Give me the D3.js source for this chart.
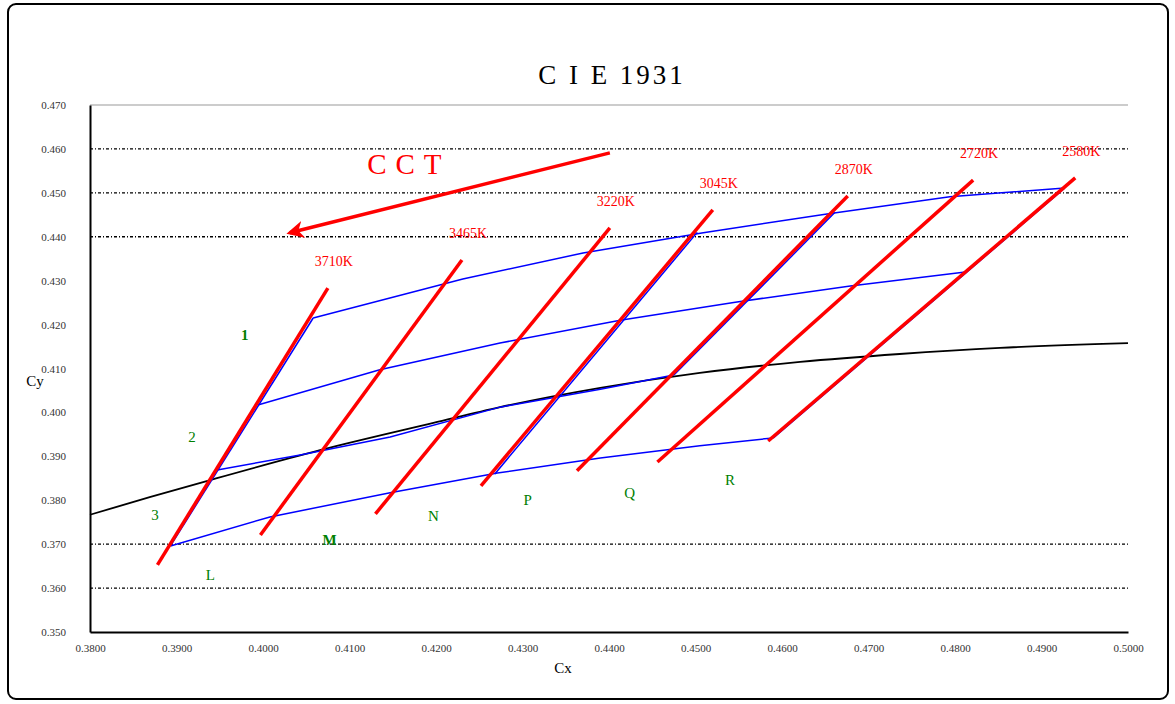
<!DOCTYPE html>
<html>
<head>
<meta charset="utf-8">
<script src="https://cdn.jsdelivr.net/npm/d3@7"></script>
<style>
  body { margin: 0; background: #fff; }
  text { font-family: "Liberation Serif", "DejaVu Serif", serif; }
</style>
</head>
<body>
<div id="chart"></div>
<script>
// axis ticks
var xTicks = d3.range(0, 13).map(function(i) { return 0.38 + i * 0.01; });
var yTicks = d3.range(0, 13).map(function(i) { return 0.35 + i * 0.01; });
var dottedGrid = [0.46, 0.45, 0.44, 0.37, 0.36];

// black locus curve
var locusX = [0.3800, 0.3869, 0.3939, 0.4066, 0.4197, 0.4274, 0.4390, 0.4505, 0.4621, 0.4736, 0.4852, 0.5000];
var locusY = [0.3767, 0.3807, 0.3846, 0.3914, 0.3976, 0.4012, 0.4056, 0.4090, 0.4115, 0.4133, 0.4147, 0.4158];

// blue bin boundaries
var blueA = [[0.4058,0.4215],[0.4231,0.4304],[0.4370,0.4363],[0.4509,0.4409],[0.4652,0.4452],[0.4794,0.4491],[0.4927,0.4511]];
var blueB = [[0.3994,0.4017],[0.4135,0.4097],[0.4274,0.4158],[0.4413,0.4210],[0.4546,0.4251],[0.4679,0.4288],[0.4812,0.4320]];
var blueC = [[0.3947,0.3869],[0.4043,0.3903],[0.4147,0.3944],[0.4274,0.4012],[0.4390,0.4053],[0.4475,0.4085]];
var blueD = [[0.3893,0.3696],[0.4008,0.3762],[0.4147,0.3817],[0.4271,0.3862],[0.4390,0.3896],[0.4505,0.3924],[0.4590,0.3942]];
var blueSides = [
  [[0.3893,0.3696],[0.4058,0.4215]],
  [[0.4268,0.3860],[0.4502,0.4410]],
  [[0.4475,0.4085],[0.4661,0.4455]],
  [[0.4590,0.3942],[0.4927,0.4511]]
];

// CCT isotherm lines
var cctLabels = ["3710K", "3465K", "3220K", "3045K", "2870K", "2720K", "2580K"];
var cctStart = [[0.3878,0.3653],[0.3997,0.3721],[0.4130,0.3769],[0.4252,0.3833],[0.4363,0.3867],[0.4456,0.3887],[0.4584,0.3935]];
var cctEnd   = [[0.4075,0.4283],[0.4230,0.4347],[0.4401,0.4420],[0.4520,0.4461],[0.4676,0.4493],[0.4821,0.4529],[0.4939,0.4534]];

// bin names
var binNames = ["1", "2", "3", "L", "M", "N", "P", "Q", "R"];
var binPos = [[0.3979,0.4176],[0.3918,0.3944],[0.3875,0.3767],[0.3939,0.3630],[0.4077,0.3710],[0.4197,0.3764],[0.4306,0.3801],[0.4424,0.3817],[0.4540,0.3846]];
var binBold = ["1", "M"];

// CCT arrow
var arrowFrom = [0.4401, 0.4591];
var arrowTo = [0.4031, 0.4409];
var arrowText = [0.4164, 0.4568];

var W = 1175, H = 704;
var margin = {top: 105, right: 47, bottom: 72, left: 90},
    width = W - margin.left - margin.right,
    height = H - margin.top - margin.bottom;

var svg = d3.select('#chart').append('svg')
    .attr('width', W)
    .attr('height', H);

svg.append('rect')
    .attr('x', 8).attr('y', 4)
    .attr('width', 1160).attr('height', 695)
    .attr('rx', 8)
    .attr('fill', '#fff')
    .attr('stroke', '#000')
    .attr('stroke-width', 2);

svg.append('text')
    .attr('x', 612).attr('y', 84)
    .attr('text-anchor', 'middle')
    .attr('font-size', '27px')
    .attr('letter-spacing', '3px')
    .text('C I E 1931');

var g = svg.append('g')
    .attr('transform', 'translate(' + margin.left + ',' + margin.top + ')');

var x = d3.scaleLinear().domain([0.38, 0.50]).range([0, width]);
var y = d3.scaleLinear().domain([0.35, 0.47]).range([height, 0]);

// grid
g.append('line')
    .attr('x1', 0).attr('x2', width)
    .attr('y1', y(0.47)).attr('y2', y(0.47))
    .attr('stroke', '#999').attr('stroke-width', 1);

g.selectAll('.grid')
    .data(dottedGrid)
    .enter().append('line')
    .attr('class', 'grid')
    .attr('x1', 0).attr('x2', width)
    .attr('y1', function(d) { return y(d); })
    .attr('y2', function(d) { return y(d); })
    .attr('stroke', '#000')
    .attr('stroke-width', 1.3)
    .attr('stroke-dasharray', '3,2,1,2');

// axes
var xAxis = d3.axisBottom(x).tickValues(xTicks).tickSize(0).tickPadding(12)
    .tickFormat(d3.format('.4f'));
var yAxis = d3.axisLeft(y).tickValues(yTicks).tickSize(0).tickPadding(24)
    .tickFormat(d3.format('.3f'));

var gx = g.append('g')
    .attr('transform', 'translate(0,' + height + ')')
    .call(xAxis);
var gy = g.append('g').call(yAxis);

[gx, gy].forEach(function(a) {
    a.select('.domain').attr('stroke', '#000').attr('stroke-width', 2);
    a.selectAll('text')
        .attr('font-family', '"Liberation Serif", serif')
        .attr('font-size', '11px')
        .attr('fill', '#333');
});

svg.append('text')
    .attr('x', 563).attr('y', 673)
    .attr('text-anchor', 'middle')
    .attr('font-size', '15px')
    .text('Cx');

svg.append('text')
    .attr('x', 35).attr('y', 386)
    .attr('text-anchor', 'middle')
    .attr('font-size', '15px')
    .text('Cy');

var line = d3.line()
    .x(function(d) { return x(d[0]); })
    .y(function(d) { return y(d[1]); });

var plot = g.append('g');

// black locus
plot.append('path')
    .datum(locusX.map(function(v, i) { return [v, locusY[i]]; }))
    .attr('d', line.curve(d3.curveMonotoneX))
    .attr('fill', 'none')
    .attr('stroke', '#000')
    .attr('stroke-width', 1.8);

line.curve(d3.curveLinear);

// blue bins
plot.selectAll('.blue')
    .data([blueA, blueB, blueC, blueD].concat(blueSides))
    .enter().append('path')
    .attr('class', 'blue')
    .attr('d', function(d) { return line(d); })
    .attr('fill', 'none')
    .attr('stroke', '#0000ff')
    .attr('stroke-width', 1.5);

// red CCT lines
plot.selectAll('.cct')
    .data(cctLabels)
    .enter().append('line')
    .attr('class', 'cct')
    .attr('x1', function(d, i) { return x(cctStart[i][0]); })
    .attr('y1', function(d, i) { return y(cctStart[i][1]); })
    .attr('x2', function(d, i) { return x(cctEnd[i][0]); })
    .attr('y2', function(d, i) { return y(cctEnd[i][1]); })
    .attr('stroke', '#ff0000')
    .attr('stroke-width', 3.5);

plot.selectAll('.cctlabel')
    .data(cctLabels)
    .enter().append('text')
    .attr('class', 'cctlabel')
    .attr('x', function(d, i) { return x(cctEnd[i][0]) + 6; })
    .attr('y', function(d, i) { return y(cctEnd[i][1]) - 22; })
    .attr('text-anchor', 'middle')
    .attr('font-size', '14px')
    .attr('fill', '#ff0000')
    .text(function(d) { return d; });

// bin names
plot.selectAll('.bin')
    .data(binNames)
    .enter().append('text')
    .attr('class', 'bin')
    .attr('x', function(d, i) { return x(binPos[i][0]); })
    .attr('y', function(d, i) { return y(binPos[i][1]) + 5; })
    .attr('text-anchor', 'middle')
    .attr('font-size', '15px')
    .attr('font-weight', function(d) { return binBold.indexOf(d) >= 0 ? 'bold' : 'normal'; })
    .attr('fill', '#008000')
    .text(function(d) { return d; });

// CCT arrow
svg.append('defs').append('marker')
    .attr('id', 'head')
    .attr('viewBox', '0 0 10 10')
    .attr('refX', 8).attr('refY', 5)
    .attr('markerWidth', 5).attr('markerHeight', 5)
    .attr('orient', 'auto')
    .append('path')
    .attr('d', 'M0,0 L10,5 L0,10 L3,5 Z')
    .attr('fill', '#ff0000');

plot.append('line')
    .attr('x1', x(arrowFrom[0])).attr('y1', y(arrowFrom[1]))
    .attr('x2', x(arrowTo[0])).attr('y2', y(arrowTo[1]))
    .attr('stroke', '#ff0000')
    .attr('stroke-width', 3.5)
    .attr('marker-end', 'url(#head)');

plot.append('text')
    .attr('x', x(arrowText[0]) + 4).attr('y', y(arrowText[1]) + 11)
    .attr('text-anchor', 'middle')
    .attr('font-size', '29px')
    .attr('letter-spacing', '9px')
    .attr('fill', '#ff0000')
    .text('CCT');
</script>
</body>
</html>
